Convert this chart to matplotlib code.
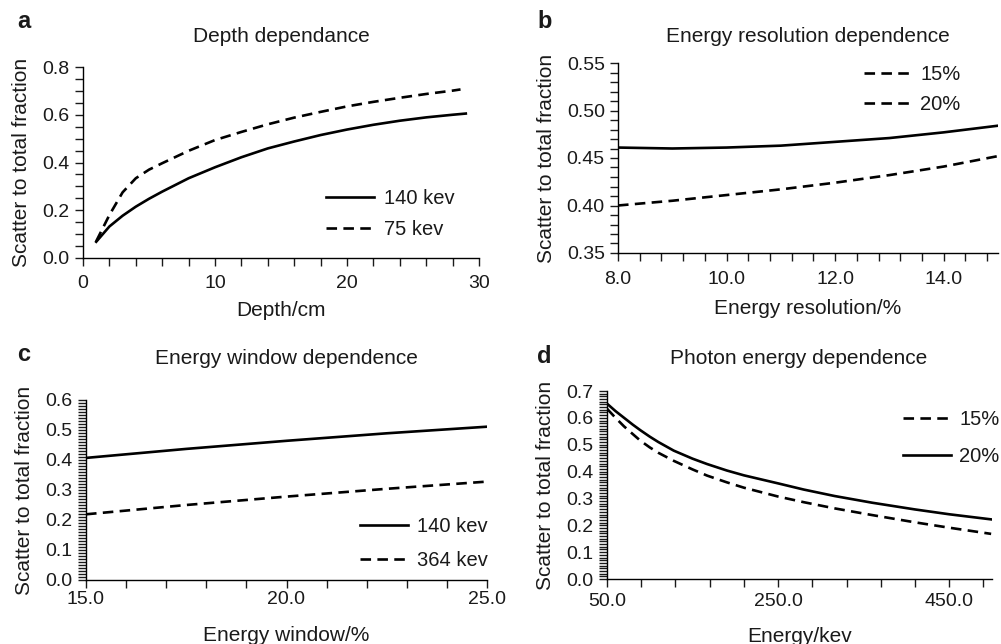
import matplotlib
matplotlib.use("Agg")
import matplotlib.pyplot as plt
from matplotlib.ticker import MultipleLocator, FormatStrFormatter

plt.rcParams['font.family'] = ['Liberation Sans', 'DejaVu Sans']
plt.rcParams['text.color'] = '#1a1a1a'
plt.rcParams['axes.labelcolor'] = '#1a1a1a'
plt.rcParams['xtick.color'] = '#1a1a1a'
plt.rcParams['ytick.color'] = '#1a1a1a'

# a: depth dependance
depth_140 = [1, 2, 3, 4, 5, 6, 8, 10, 12, 14, 16, 18, 20, 22, 24, 26, 28, 29]
frac_140 = [0.068, 0.132, 0.177, 0.215, 0.248, 0.278, 0.334, 0.38, 0.422, 0.459,
            0.488, 0.515, 0.538, 0.558, 0.575, 0.589, 0.600, 0.605]
depth_75 = [1, 2, 3, 4, 5, 6, 8, 10, 12, 14, 16, 18, 20, 22, 24, 26, 28, 28.6]
frac_75 = [0.07, 0.18, 0.275, 0.334, 0.37, 0.397, 0.449, 0.494, 0.528, 0.56,
           0.588, 0.612, 0.635, 0.654, 0.671, 0.687, 0.701, 0.706]

# b: energy resolution dependence
eres = [8, 9, 10, 11, 12, 13, 14, 15]
eres_solid = [0.461, 0.460, 0.461, 0.463, 0.467, 0.471, 0.477, 0.484]
eres_dashed = [0.400, 0.405, 0.411, 0.417, 0.424, 0.432, 0.441, 0.452]

# c: energy window dependence
ewin = [15, 17.5, 20, 22.5, 25]
ewin_140 = [0.407, 0.437, 0.464, 0.489, 0.511]
ewin_364 = [0.219, 0.25, 0.278, 0.304, 0.328]

# d: photon energy dependence
energy = [50, 60, 70, 80, 89, 100, 110, 128, 150, 167, 190, 210, 250, 280, 316, 360, 410, 450, 499]
energy_15 = [0.634, 0.60, 0.568, 0.54, 0.515, 0.49, 0.47, 0.44, 0.408, 0.385,
             0.36, 0.34, 0.307, 0.286, 0.263, 0.238, 0.211, 0.191, 0.168]
energy_20 = [0.653, 0.625, 0.60, 0.575, 0.554, 0.53, 0.51, 0.478, 0.448, 0.428,
             0.404, 0.386, 0.356, 0.333, 0.309, 0.284, 0.259, 0.241, 0.222]
energy_ticks = [50, 250, 450]

W, H = 1001, 644
fig = plt.figure(figsize=(W / 100, H / 100), dpi=100)


def px_axes(l, r, t, b):
    return fig.add_axes([l / W, 1 - b / H, (r - l) / W, (b - t) / H])


dash = (0, (4.0, 2.4))
lw = 1.9


def style(ax, xpad):
    for s in ['top', 'right']:
        ax.spines[s].set_visible(False)
    for s in ['left', 'bottom']:
        ax.spines[s].set_linewidth(1.0)
    ax.tick_params(which='both', direction='out', length=6, width=1.0, labelsize=14)
    ax.tick_params(axis='x', which='both', pad=xpad)
    ax.set_ylabel('Scatter to total fraction', fontsize=15, labelpad=8)


axa = px_axes(83, 479, 67, 258)
axa.plot(depth_140, frac_140, color='k', lw=lw, label='140 kev')
axa.plot(depth_75, frac_75, color='k', lw=lw, ls=dash, label='75 kev')
axa.set_xlim(0, 30)
axa.set_ylim(0, 0.8)
axa.xaxis.set_major_locator(MultipleLocator(10))
axa.xaxis.set_minor_locator(MultipleLocator(2))
axa.yaxis.set_major_locator(MultipleLocator(0.2))
axa.yaxis.set_minor_locator(MultipleLocator(0.05))
axa.yaxis.set_major_formatter(FormatStrFormatter('%.1f'))
style(axa, 6)
axa.set_xlabel('Depth/cm', fontsize=15, labelpad=7)
axa.legend(loc='upper left', bbox_to_anchor=(0.614, 0.36), frameon=False, fontsize=14.5,
           handlelength=2.4, handletextpad=0.45, labelspacing=0.6, borderpad=0, borderaxespad=0)

axb = px_axes(618, 998, 63, 253)
axb.plot(eres, eres_solid, color='k', lw=lw)
axb.plot(eres, eres_dashed, color='k', lw=lw, ls=dash)
axb.set_xlim(8, 15)
axb.set_ylim(0.35, 0.55)
axb.xaxis.set_major_locator(MultipleLocator(2))
axb.xaxis.set_minor_locator(MultipleLocator(0.4))
axb.xaxis.set_major_formatter(FormatStrFormatter('%.1f'))
axb.yaxis.set_major_locator(MultipleLocator(0.05))
axb.yaxis.set_minor_locator(MultipleLocator(0.01))
axb.yaxis.set_major_formatter(FormatStrFormatter('%.2f'))
style(axb, 7)
axb.set_xlabel('Energy resolution/%', fontsize=15, labelpad=8)
hb = [plt.Line2D([], [], color='k', lw=lw, ls=dash), plt.Line2D([], [], color='k', lw=lw, ls=dash)]
axb.legend(hb, ['15%', '20%'], loc='upper left', bbox_to_anchor=(0.647, 0.99), frameon=False,
           fontsize=14.5, handlelength=2.4, handletextpad=0.4, labelspacing=0.55,
           borderpad=0, borderaxespad=0)

axc = px_axes(86, 487, 400, 580)
axc.plot(ewin, ewin_140, color='k', lw=lw, label='140 kev')
axc.plot(ewin, ewin_364, color='k', lw=lw, ls=dash, label='364 kev')
axc.set_xlim(15, 25)
axc.set_ylim(0, 0.6)
axc.xaxis.set_major_locator(MultipleLocator(5))
axc.xaxis.set_minor_locator(MultipleLocator(1))
axc.xaxis.set_major_formatter(FormatStrFormatter('%.1f'))
axc.yaxis.set_major_locator(MultipleLocator(0.1))
axc.yaxis.set_minor_locator(MultipleLocator(0.01))
axc.yaxis.set_major_formatter(FormatStrFormatter('%.1f'))
style(axc, 2)
axc.set_xlabel('Energy window/%', fontsize=15, labelpad=13)
axc.legend(loc='upper left', bbox_to_anchor=(0.683, 0.348), frameon=False, fontsize=14.5,
           handlelength=2.4, handletextpad=0.45, labelspacing=0.75, borderpad=0, borderaxespad=0)

axd = px_axes(607, 992, 391, 579)
axd.plot(energy, energy_15, color='k', lw=lw, ls=dash, label='15%')
axd.plot(energy, energy_20, color='k', lw=lw, label='20%')
axd.set_xlim(50, 500)
axd.set_ylim(0, 0.7)
axd.set_xticks(energy_ticks)
axd.xaxis.set_minor_locator(MultipleLocator(40, offset=10))
axd.xaxis.set_major_formatter(FormatStrFormatter('%.1f'))
axd.yaxis.set_major_locator(MultipleLocator(0.1))
axd.yaxis.set_minor_locator(MultipleLocator(0.01))
axd.yaxis.set_major_formatter(FormatStrFormatter('%.1f'))
style(axd, 4)
axd.set_xlabel('Energy/kev', fontsize=15, labelpad=12)
axd.legend(loc='upper left', bbox_to_anchor=(0.769, 0.90), frameon=False, fontsize=14.5,
           handlelength=2.4, handletextpad=0.4, labelspacing=0.9, borderpad=0, borderaxespad=0)

# panel titles and letters
titles = [('Depth dependance', 281, 37), ('Energy resolution dependence', 808, 37),
          ('Energy window dependence', 286, 358), ('Photon energy dependence', 799, 358)]
for t, x, y in titles:
    fig.text(x / W, 1 - y / H, t, fontsize=15, ha='center', va='center')

letters = [('a', 17, 28), ('b', 537, 28), ('c', 17, 361), ('d', 537, 363)]
for t, x, y in letters:
    fig.text(x / W, 1 - y / H, t, fontsize=17, fontweight='bold', ha='left', va='baseline')

fig.savefig('out.png', dpi=100)
